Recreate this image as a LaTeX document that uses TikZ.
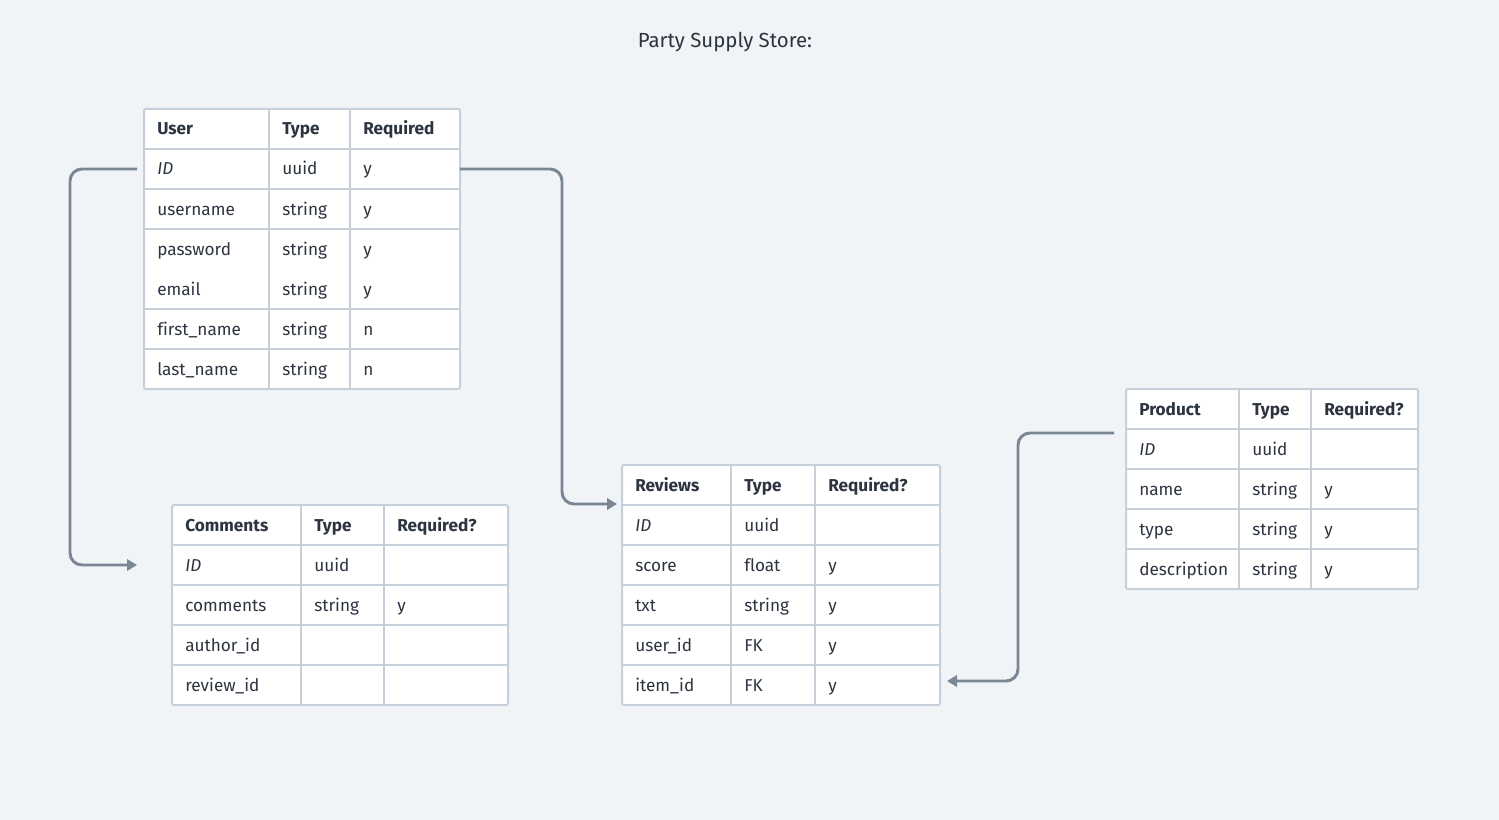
\documentclass[tikz,border=0pt]{standalone}
\usepackage{fontspec}
\setmainfont{Fira Sans}[Ligatures=CommonOff]
\usetikzlibrary{arrows.meta}
\usetikzlibrary{calc}

\definecolor{bg}{HTML}{F0F4F7}
\definecolor{rulegray}{HTML}{C6D0DA}
\definecolor{ink}{HTML}{2C3440}
\definecolor{wire}{HTML}{7B8694}

\tikzset{
  tablebox/.style={draw=rulegray, line width=1.5pt, fill=white, rounded corners=1.5pt,
    anchor=north west, inner sep=0, outer sep=0},
  rule line/.style={draw=rulegray, line width=1.5pt},
  celltext/.style={anchor=base west, inner sep=0, text=ink, font=\fontsize{12.9}{15}\selectfont},
  title/.style={text=ink, inner sep=0, anchor=base, font=\fontsize{15.3}{18}\selectfont},
  link/.style={draw=wire, line width=2.2pt, rounded corners=9pt,
    -{Triangle[length=7.5pt, width=8.5pt]}},
}

\begin{document}
\begin{tikzpicture}[x=0.75pt, y=-0.75pt]
	\fill[bg] (0,0) rectangle (1499,820);
	\node[title] (title) at (725,48) {Party Supply Store:};

	% user table
	\node[tablebox, minimum width=237pt, minimum height=210pt] (user) at (144,109) {};
	\foreach \yy in {149,189,229,309,349} \draw[rule line] (144,\yy) -- (460,\yy);
	\foreach \xx in {269,350} \draw[rule line] (\xx,109) -- (\xx,389);
	\foreach \a/\b/\c [count=\i from 0] in {\textbf{User}/\textbf{Type}/\textbf{Required},
		\textit{ID}/uuid/y, username/string/y, password/string/y, email/string/y,
		first\_name/string/n, last\_name/string/n}{
		\coordinate (user-r\i) at (144,129+40*\i);
		\node[celltext] (user-\i-a) at (157,135+40*\i) {\a};
		\node[celltext] (user-\i-b) at (282,135+40*\i) {\b};
		\node[celltext] (user-\i-c) at (363,135+40*\i) {\c};
	}
	\coordinate (user-east) at (460,169);

	% comments table
	\node[tablebox, minimum width=252pt, minimum height=150pt] (comments) at (172,505) {};
	\foreach \yy in {545,585,625,665} \draw[rule line] (172,\yy) -- (508,\yy);
	\foreach \xx in {301,384} \draw[rule line] (\xx,505) -- (\xx,705);
	\foreach \a/\b/\c [count=\i from 0] in {\textbf{Comments}/\textbf{Type}/\textbf{Required?},
		\textit{ID}/uuid/{}, comments/string/y, author\_id/{}/{}, review\_id/{}/{}}{
		\coordinate (comments-r\i) at (172,525+40*\i);
		\node[celltext] (comments-\i-a) at (185,531+40*\i) {\a};
		\node[celltext] (comments-\i-b) at (314,531+40*\i) {\b};
		\node[celltext] (comments-\i-c) at (397,531+40*\i) {\c};
	}

	% reviews table
	\node[tablebox, minimum width=238.5pt, minimum height=180pt] (reviews) at (622,465) {};
	\foreach \yy in {505,545,585,625,665} \draw[rule line] (622,\yy) -- (940,\yy);
	\foreach \xx in {731,815} \draw[rule line] (\xx,465) -- (\xx,705);
	\foreach \a/\b/\c [count=\i from 0] in {\textbf{Reviews}/\textbf{Type}/\textbf{Required?},
		\textit{ID}/uuid/{}, score/float/y, txt/string/y, user\_id/FK/y, item\_id/FK/y}{
		\coordinate (reviews-r\i) at (622,485+40*\i);
		\node[celltext] (reviews-\i-a) at (635,491+40*\i) {\a};
		\node[celltext] (reviews-\i-b) at (744,491+40*\i) {\b};
		\node[celltext] (reviews-\i-c) at (828,491+40*\i) {\c};
	}
	\coordinate (reviews-head) at (622,504);
	\coordinate (reviews-item) at (940,681);

	% product table
	\node[tablebox, minimum width=219pt, minimum height=150pt] (product) at (1126,389) {};
	\foreach \yy in {429,469,509,549} \draw[rule line] (1126,\yy) -- (1418,\yy);
	\foreach \xx in {1239,1311} \draw[rule line] (\xx,389) -- (\xx,589);
	\foreach \a/\b/\c [count=\i from 0] in {\textbf{Product}/\textbf{Type}/\textbf{Required?},
		\textit{ID}/uuid/{}, name/string/y, type/string/y, description/string/y}{
		\coordinate (product-r\i) at (1126,409+40*\i);
		\node[celltext] (product-\i-a) at (1139,415+40*\i) {\a};
		\node[celltext] (product-\i-b) at (1252,415+40*\i) {\b};
		\node[celltext] (product-\i-c) at (1324,415+40*\i) {\c};
	}
	\coordinate (product-west) at (1126,433);

	% relations
	\draw[link] ($(user-r1)+(-7,0)$) -| (70,565) -- ($(comments-r1)+(-35,0)$);
	\draw[link] (user-east) -| (562,504) -- ($(reviews-head)+(-5,0)$);
	\draw[link] ($(product-west)+(-12,0)$) -| (1018,681) -- ($(reviews-item)+(7,0)$);
\end{tikzpicture}
\end{document}
